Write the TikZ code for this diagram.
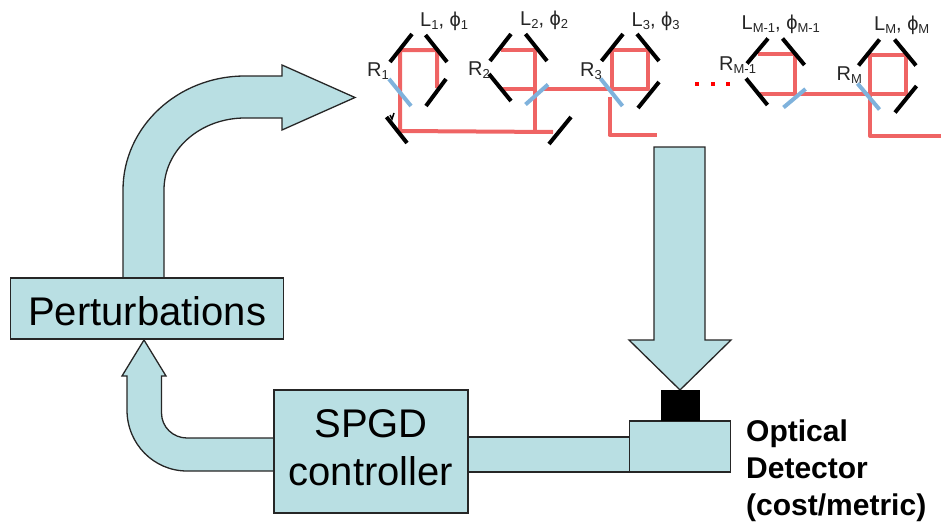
\documentclass[tikz,border=0pt]{standalone}
\usepackage{fontspec}
\setmainfont{Liberation Sans}
\newcommand{\sublabel}[1]{\raisebox{-3.5pt}{\fontsize{13}{13}\selectfont #1}}
\definecolor{blockfill}{HTML}{B9DFE3}
\definecolor{beamred}{HTML}{EF6464}
\definecolor{splitblue}{HTML}{7FB2DC}
\begin{document}
\begin{tikzpicture}[
    x=1pt, y=-1pt,
    every node/.style={align=center, inner sep=0pt},
    block/.style={draw=black!85, line width=1.3pt, fill=blockfill},
    block arrow/.style={draw=black!85, line width=1.3pt, fill=blockfill, line join=miter},
    big text/.style={font=\fontsize{40}{48}\selectfont},
    optic label/.style={anchor=base west, text=black!85, font=\fontsize{20}{20}\selectfont},
    beam/.style={draw=beamred, line width=4pt, line join=round},
    mirror/.style={draw=black, line width=4pt},
    splitter/.style={draw=splitblue, line width=4pt},
    ]
\useasboundingbox (0,0) rectangle (941,522);
% block arrows
\draw[block arrow] (123,278) -- (123,190) .. controls (123,127) and (177.6,76) .. (245,76)
    -- (282,76) -- (282,65) -- (355,97.5) -- (282,130) -- (282,118) -- (245,118)
    .. controls (200,118) and (164,150) .. (164,190) -- (164,278) -- cycle;
\draw[block arrow] (274,471) -- (187,471) .. controls (154,471) and (127,444) .. (127,410)
    -- (127,376) -- (122,376) -- (144,340) -- (166,376) -- (161.5,376) -- (161.5,413)
    .. controls (161.5,427) and (173,438) .. (187,438) -- (274,438) -- cycle;
\draw[block arrow] (654,147) -- (705,147) -- (705,340) -- (731,340) -- (680,390)
    -- (629,340) -- (654,340) -- cycle;
% boxes
\node[block, minimum width=273pt, minimum height=61pt,
    label={[big text, yshift=-3pt]center:Perturbations}] (perturb) at (147.25,308.5) {};
\node[block, minimum width=162pt, minimum height=35pt] (link) at (549,454.5) {};
\node[block, minimum width=194pt, minimum height=123pt,
    label={[big text, yshift=3.5pt]center:{SPGD\\controller}}] (spgd) at (371,451.5) {};
\node[block, minimum width=101pt, minimum height=51pt] (detector) at (680,446.5) {};
\node[fill=black, minimum width=39pt, minimum height=31pt] (sensor) at (680.5,405.5) {};
\node[anchor=north west, align=left, font=\fontsize{30}{37}\bfseries\selectfont] (detectorlabel) at (746,420) {Optical\\Detector\\(cost/metric)};
% beams
\draw[beam] (437,88) -- (437,50) -- (400,50) -- (400,131) -- (553,132);
\draw[beam] (502,89) -- (535,89) -- (535,49.5) -- (501,49.5);
\draw[beam] (535,89) -- (535,132);
\draw[beam] (543,89) -- (610,89);
\draw[beam] (611.5,89) -- (611.5,50) -- (647.5,50) -- (647.5,89) -- cycle;
\draw[beam] (609.5,97) -- (609.5,135) -- (657,135);
\draw[beam] (758,53.5) -- (794.5,53.5) -- (794.5,94) -- (758,94);
\draw[beam] (800,94) -- (870,94);
\draw[beam] (870,54.5) -- (906,54.5) -- (906,94) -- (870,94) -- cycle;
\draw[beam] (870,94) -- (870,136) -- (941,136);
% mirrors
\draw[mirror] (390,62) -- (412,34);
\draw[mirror] (425.5,35) -- (447,62);
\draw[mirror] (446,79) -- (426,106);
\draw[mirror] (386.5,117) -- (407,143);
\draw[mirror, line width=1.5pt] (390,115) -- (392,119) -- (394,113);
\draw[mirror] (549,144) -- (571,117);
\draw[mirror] (490,61) -- (511,34);
\draw[mirror] (525.5,34) -- (547,61);
\draw[mirror] (489,74) -- (511,101);
\draw[mirror] (601.5,61) -- (623,34);
\draw[mirror] (637,34) -- (659,61);
\draw[mirror] (659,82) -- (638,108);
\draw[mirror] (747,63.5) -- (768,38.5);
\draw[mirror] (782.5,38.5) -- (804.5,65);
\draw[mirror] (746,78.5) -- (767.5,105);
\draw[mirror] (858.5,65.5) -- (879.5,39.5);
\draw[mirror] (894.5,39.5) -- (916,65.5);
\draw[mirror] (916.5,86) -- (895,112.5);
% splitters
\draw[splitter] (389,79) -- (411,106);
\draw[splitter] (525.5,104.5) -- (548,84.5);
\draw[splitter] (600.5,78.5) -- (622.5,106);
\draw[splitter] (783.5,107.5) -- (805.5,89);
\draw[splitter] (857.5,83.5) -- (879.5,109.5);
% dots
\fill[red] (695,81.5) rectangle (699,85.5);
\fill[red] (710.5,81.5) rectangle (714.5,85.5);
\fill[red] (726,81.5) rectangle (730,85.5);
% labels
\node[optic label] (labelone) at (420,26) {L\sublabel{1}, ϕ\sublabel{1}};
\node[optic label] (labeltwo) at (520,25) {L\sublabel{2}, ϕ\sublabel{2}};
\node[optic label] (labelthree) at (631.5,26) {L\sublabel{3}, ϕ\sublabel{3}};
\node[optic label] (labellast) at (741.5,29) {L\sublabel{M-1}, ϕ\sublabel{M-1}};
\node[optic label] (labelM) at (874,30) {L\sublabel{M}, ϕ\sublabel{M}};
\node[optic label] (Rone) at (367,76) {R\sublabel{1}};
\node[optic label] (Rtwo) at (468,75) {R\sublabel{2}};
\node[optic label] (Rthree) at (580,76) {R\sublabel{3}};
\node[optic label] (Rlast) at (719,70) {R\sublabel{M-1}};
\node[optic label] (RM) at (836.5,80) {R\sublabel{M}};
\end{tikzpicture}
\end{document}
